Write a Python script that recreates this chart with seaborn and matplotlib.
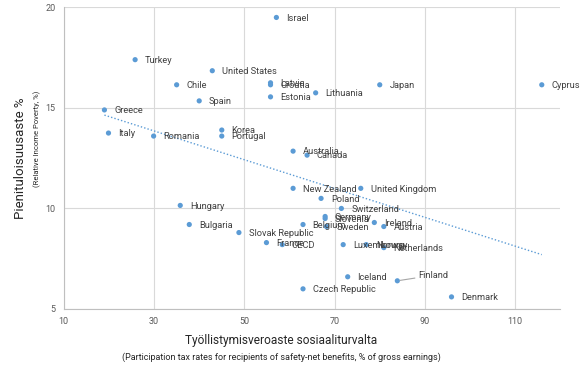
import numpy as np
import pandas as pd
import matplotlib
matplotlib.use("Agg")
import matplotlib.pyplot as plt
import seaborn as sns

# values
countries = ["Israel", "Turkey", "United States", "Chile", "Latvia", "Croatia", "Estonia",
             "Lithuania", "Japan", "Cyprus", "Spain", "Greece", "Italy", "Romania", "Korea",
             "Portugal", "Australia", "Canada", "New Zealand", "United Kingdom", "Poland",
             "Switzerland", "Hungary", "Germany", "Slovenia", "Belgium", "Sweden", "Ireland",
             "Austria", "Bulgaria", "Slovak Republic", "France", "OECD", "Luxembourg",
             "Norway", "Netherlands", "Iceland", "Finland", "Czech Republic", "Denmark"]
tax_rate = [57.1, 25.8, 42.9, 35.0, 55.8, 55.8, 55.8,
            65.8, 80.0, 115.9, 40.0, 19.0, 19.9, 29.9, 45.0,
            45.0, 60.8, 63.9, 60.8, 75.8, 67.0,
            71.5, 35.8, 67.9, 67.9, 63.0, 68.2, 78.8,
            80.9, 37.8, 48.8, 54.9, 58.4, 71.9,
            77.0, 80.9, 72.9, 83.9, 63.0, 95.9]
poverty = [19.5, 17.4, 16.85, 16.15, 16.25, 16.15, 15.55,
           15.75, 16.15, 16.15, 15.35, 14.9, 13.75, 13.6, 13.9,
           13.6, 12.85, 12.65, 11.0, 11.0, 10.5,
           10.0, 10.15, 9.6, 9.5, 9.2, 9.1, 9.3,
           9.1, 9.2, 8.8, 8.3, 8.2, 8.2,
           8.2, 8.05, 6.6, 6.4, 6.0, 5.6]
x_ticks = [10, 30, 50, 70, 90, 110]
y_ticks = [5, 10, 15, 20]

df = pd.DataFrame({"country": countries, "tax": tax_rate, "poverty": poverty})

sns.set_style("white")
plt.rcParams["font.family"] = ["Roboto", "DejaVu Sans"]

blue = "#5B9BD5"
fig = plt.figure(figsize=(5.8, 3.7), dpi=100)
ax = fig.add_axes([0.110, 0.165, 0.856, 0.815])

sns.scatterplot(data=df, x="tax", y="poverty", color=blue, s=14, edgecolor="none", ax=ax, zorder=3)
# linear trendline
sns.regplot(data=df, x="tax", y="poverty", scatter=False, ci=None, ax=ax,
            line_kws={"color": blue, "lw": 1.0, "ls": (0, (1, 1.5))})

for name, x, y in zip(countries, tax_rate, poverty):
    if name == "Finland":
        ax.annotate(name, (x, y), xytext=(15, 4), textcoords="offset points",
                    fontsize=6.7, color="#404040", va="center",
                    arrowprops=dict(arrowstyle="-", color="#a6a6a6", lw=0.8, shrinkA=0, shrinkB=2))
    else:
        ax.annotate(name, (x, y), xytext=(7, -0.5), textcoords="offset points",
                    fontsize=6.7, color="#404040", va="center")

ax.set_xlim(10, 120)
ax.set_ylim(5, 20)
ax.set_xticks(x_ticks)
ax.set_yticks(y_ticks)
ax.tick_params(labelsize=6.5, colors="#595959", length=0, pad=6)
ax.grid(True, color="#d9d9d9", lw=0.8)
for s in ["top", "right"]:
    ax.spines[s].set_visible(False)
for s in ["left", "bottom"]:
    ax.spines[s].set_color("#bfbfbf")
    ax.spines[s].set_linewidth(0.8)
ax.set_xlabel("")
ax.set_ylabel("")

fig.text(0.485, 0.081, "Työllistymisveroaste sosiaaliturvalta", ha="center", va="center",
         fontsize=8.6, color="#262626")
fig.text(0.485, 0.035, "(Participation tax rates for recipients of safety-net benefits, % of gross earnings)",
         ha="center", va="center", fontsize=6.5, color="#262626")
fig.text(0.036, 0.573, "Pienituloisuusaste %", rotation=90, ha="center", va="center",
         fontsize=9.5, color="#262626")
fig.text(0.064, 0.624, "(Relative Income Poverty, %)", rotation=90, ha="center", va="center",
         fontsize=5.5, color="#262626")

fig.savefig("out.png", dpi=100)
